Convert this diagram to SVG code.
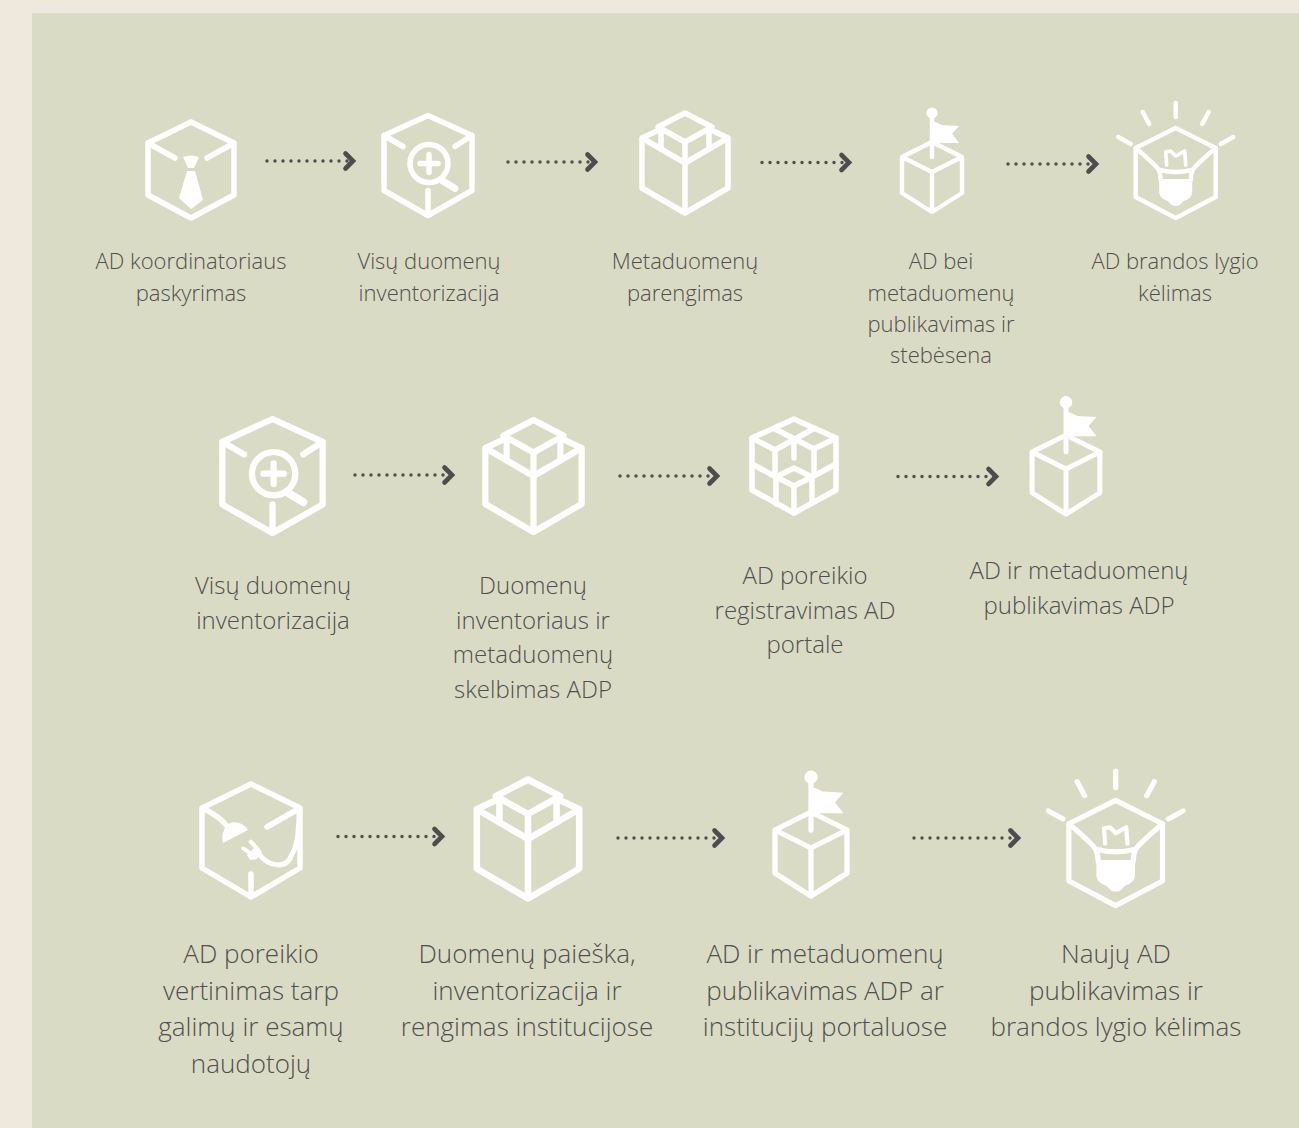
<svg xmlns="http://www.w3.org/2000/svg" width="1299" height="1128" viewBox="0 0 1299 1128">
<style>
.ic{fill:none;stroke:#fff;stroke-width:5.5;stroke-linecap:round;stroke-linejoin:round}
.thin{stroke-width:4.4}
.f{fill:#fff;stroke:none}
.dots{fill:none;stroke:#4d4d4d;stroke-width:3.4;stroke-linecap:round;stroke-dasharray:0 8;marker-end:url(#chev)}
text{font-family:"Open Sans","Liberation Sans",sans-serif;font-weight:300;fill:#4f4f4f;text-anchor:middle}
.t1{font-size:22px}.t2{font-size:24px}.t3{font-size:26px}
</style>
<defs>
<marker id="chev" markerUnits="userSpaceOnUse" markerWidth="16" markerHeight="24" viewBox="0 0 16 24" refX="12" refY="12" orient="auto">
<path d="M3.5,4.5 L11,12 L3.5,19.5" fill="none" stroke="#4d4d4d" stroke-width="4.6" stroke-linecap="round" stroke-linejoin="miter"/>
</marker>
<g id="i-tie" class="ic">
<path d="M0,-48 43,-27 43,25 0,48 -43,25 -43,-27Z M-43,-27 -16,-12 M43,-27 16,-12"/>
<path class="f" d="M-8,-13 Q0,-16 8,-13 L3,-2 L-3,-2Z M-4,1 L4,1 L12,30 L0,39 L-12,28Z"/>
</g>
<g id="i-mag" class="ic">
<path d="M0,-50 44,-30 44,25 0,50 -44,25 -44,-30Z M-44,-30 -25,-19 M44,-30 27,-19 M0,50 0,25"/>
<circle cx="1" cy="-2" r="19"/>
<path d="M1,-11 V7 M-8,-2 H10"/>
<path d="M14,15 L27,23" stroke-width="7"/>
</g>
<g id="i-block" class="ic">
<path d="M-24,-34 L-43,-25 V25 L0,50 L43,25 V-25 L24,-34 M-43,-25 L0,0 L43,-25 M0,0 V50"/>
<path d="M0,-50 27,-36 0,-21 -27,-36Z M-24,-34 V-14 M24,-34 V-14 M0,-21 V0"/>
</g>
<g id="i-flag" class="ic thin">
<path d="M0,-30 30,-15 30,21 0,40 -30,21 -30,-15Z M-30,-15 0,0 30,-15 M0,0 V40"/>
<path d="M0,-15 V-57"/>
<circle class="f" cx="0" cy="-59" r="5.5"/>
<path class="f" d="M1,-51 10,-47 27,-46 20,-38 27,-29 1,-29Z"/>
</g>
<g id="i-bulb" class="ic thin">
<path d="M0,-45 40,-25 40,24 0,45 -40,24 -40,-25Z"/>
<path d="M0,-70 V-56 M-33,-61 -26.5,-49 M33,-61 26.5,-49 M-57.5,-36 -45,-29 M57.5,-36 45,-29"/>
<path d="M-40,-25 Q-20,-8 -17,-3 Q-15,1 -15,7 M40,-25 Q20,-8 17,-3 Q15,1 15,7 M-16,-3 Q0,1 16,-3"/>
<path d="M-9,-8 L-10,-21 L-5,-22 L0,-17 L9,-22 L10,-8" stroke-width="3.6"/>
<path class="f" d="M-16.5,6 L16.5,6 L16.5,20 Q15,26 8,28 L4,32 Q0,34 -4,32 L-8,28 Q-15,26 -16.5,20Z"/>
</g>
<g id="i-cubes" class="ic">
<path d="M0,-47 42,-28 42,24 0,47 -42,24 -42,-28Z"/>
<path d="M-19,-37 L20,-17 V9 M19,-37 L-19,-16 V9 M-42,-28 L-19,-16 M42,-28 L20,-17 M0,-26 V-8"/>
<path d="M0,2 18,11 0,20 -18,11Z M0,20 V47 M-42,-2 -18,11 V38 M42,-2 18,11 V36" />
</g>
<g id="i-plug" class="ic">
<path d="M0,-56 49,-32 49,28 0,57 -49,28 -49,-32Z M49,-32 16,-13 M0,57 V34"/>
<path d="M-47,-31 Q-32,-24 -24,-14"/>
<path class="f" d="M-28,3 Q-31,-10 -21,-17 Q-10,-20 -3,-10Z M-4,15 -1,20 6,19 11,12 6,5Z"/>
<path d="M-7.7,8.3 L-1.7,12.7 M-0.3,1.7 L5,7.3" stroke-width="4"/>
<path d="M8,14 C18,27 36,30 41,14 C47,6 48,-10 48,-30" stroke-width="5"/>
</g>
</defs>
<rect width="1299" height="1128" fill="#efe8dc"/>
<rect x="32" y="13" width="1267" height="1115" fill="#dadbc5"/>
<g id="connectors">
<path class="dots" d="M267,161 H354"/>
<path class="dots" d="M508,162 H596"/>
<path class="dots" d="M762,162.5 H850"/>
<path class="dots" d="M1008,164 H1097"/>
<path class="dots" d="M355,475 H453"/>
<path class="dots" d="M620,476 H718"/>
<path class="dots" d="M898,476.5 H997"/>
<path class="dots" d="M338,836.5 H443"/>
<path class="dots" d="M618,838 H723"/>
<path class="dots" d="M914,838 H1019"/>
</g>
<g id="n1"><use href="#i-tie" x="191" y="170"/><text class="t1" y="269"><tspan x="191">AD koordinatoriaus</tspan><tspan x="191" dy="32">paskyrimas</tspan></text></g>
<g id="n2"><use href="#i-mag" x="428" y="165.5"/><text class="t1" y="269"><tspan x="429">Visų duomenų</tspan><tspan x="429" dy="32">inventorizacija</tspan></text></g>
<g id="n3"><use href="#i-block" x="685" y="163"/><text class="t1" y="269"><tspan x="685">Metaduomenų</tspan><tspan x="685" dy="32">parengimas</tspan></text></g>
<g id="n4"><use href="#i-flag" x="932" y="172"/><text class="t1" y="269"><tspan x="941">AD bei</tspan><tspan x="941" dy="31.5">metaduomenų</tspan><tspan x="941" dy="31">publikavimas ir</tspan><tspan x="941" dy="31">stebėsena</tspan></text></g>
<g id="n5"><use href="#i-bulb" x="1175.7" y="173"/><text class="t1" y="269"><tspan x="1175">AD brandos lygio</tspan><tspan x="1175" dy="32">kėlimas</tspan></text></g>
<g id="n6"><use href="#i-mag" transform="translate(272.5 476) scale(1.14)"/><text class="t2" y="594"><tspan x="273">Visų duomenų</tspan><tspan x="273" dy="34.5">inventorizacija</tspan></text></g>
<g id="n7"><use href="#i-block" transform="translate(533.5 476) scale(1.12)"/><text class="t2" y="594"><tspan x="533">Duomenų</tspan><tspan x="533" dy="34.5">inventoriaus ir</tspan><tspan x="533" dy="34.5">metaduomenų</tspan><tspan x="533" dy="34.5">skelbimas ADP</tspan></text></g>
<g id="n8"><use href="#i-cubes" x="794" y="466"/><text class="t2" y="584"><tspan x="805">AD poreikio</tspan><tspan x="805" dy="34.5">registravimas AD</tspan><tspan x="805" dy="34.5">portale</tspan></text></g>
<g id="n9"><use href="#i-flag" transform="translate(1066 469) scale(1.13)"/><text class="t2" y="579"><tspan x="1079">AD ir metaduomenų</tspan><tspan x="1079" dy="34.5">publikavimas ADP</tspan></text></g>
<g id="n10"><use href="#i-plug" x="251" y="840"/><text class="t3" y="963"><tspan x="251">AD poreikio</tspan><tspan x="251" dy="36.5">vertinimas tarp</tspan><tspan x="251" dy="36.5">galimų ir esamų</tspan><tspan x="251" dy="36.5">naudotojų</tspan></text></g>
<g id="n11"><use href="#i-block" transform="translate(528 839) scale(1.19)"/><text class="t3" y="963"><tspan x="527">Duomenų paieška,</tspan><tspan x="527" dy="36.5">inventorizacija ir</tspan><tspan x="527" dy="36.5">rengimas institucijose</tspan></text></g>
<g id="n12"><use href="#i-flag" transform="translate(811 848) scale(1.2)"/><text class="t3" y="963"><tspan x="825">AD ir metaduomenų</tspan><tspan x="825" dy="36.5">publikavimas ADP ar</tspan><tspan x="825" dy="36.5">institucijų portaluose</tspan></text></g>
<g id="n13"><use href="#i-bulb" transform="translate(1115.7 853) scale(1.17)"/><text class="t3" y="963"><tspan x="1116">Naujų AD</tspan><tspan x="1116" dy="36.5">publikavimas ir</tspan><tspan x="1116" dy="36.5">brandos lygio kėlimas</tspan></text></g>
</svg>
